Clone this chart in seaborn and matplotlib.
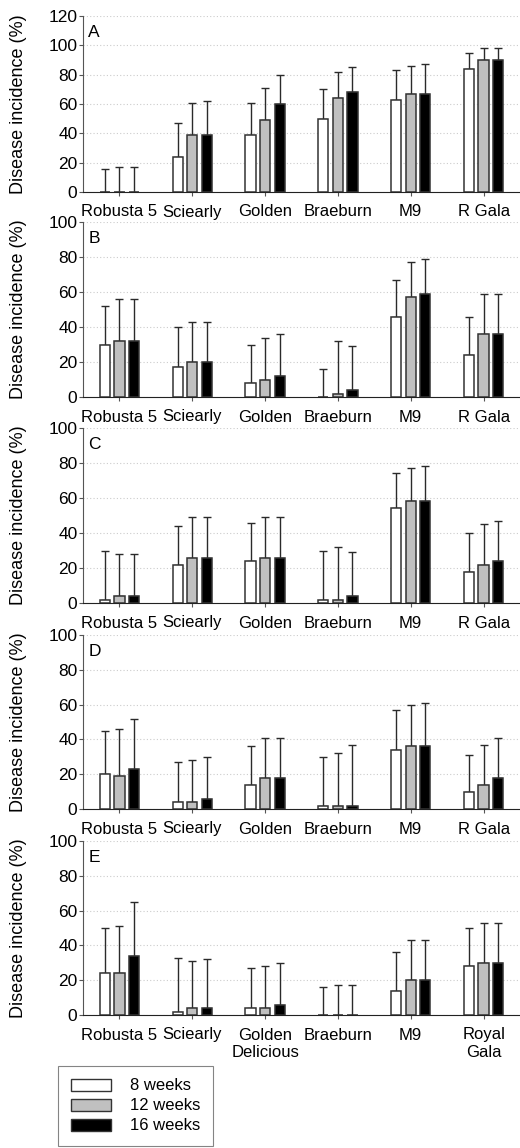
import numpy as np
import pandas as pd
import seaborn as sns
import matplotlib.pyplot as plt
from matplotlib.patches import Patch

# cultivars
cultivars = ["Robusta 5", "Sciearly", "Golden", "Braeburn", "M9", "R Gala"]
cultivars_e = ["Robusta 5", "Sciearly", "Golden\nDelicious", "Braeburn", "M9", "Royal\nGala"]
weeks = ["8 weeks", "12 weeks", "16 weeks"]
panel_labels = ["A", "B", "C", "D", "E"]

# mean disease incidence (%) per panel, rows = weeks (8, 12, 16)
mean_a = [[0, 24, 39, 50, 63, 84], [0, 39, 49, 64, 67, 90], [0, 39, 60, 68, 67, 90]]
mean_b = [[30, 17, 8, 0, 46, 24], [32, 20, 10, 2, 57, 36], [32, 20, 12, 4, 59, 36]]
mean_c = [[2, 22, 24, 2, 54, 18], [4, 26, 26, 2, 58, 22], [4, 26, 26, 4, 58, 24]]
mean_d = [[20, 4, 14, 2, 34, 10], [19, 4, 18, 2, 36, 14], [23, 6, 18, 2, 36, 18]]
mean_e = [[24, 2, 4, 0, 14, 28], [24, 4, 4, 0, 20, 30], [34, 4, 6, 0, 20, 30]]

# top of the error bars (%)
top_a = [[16, 47, 61, 70, 83, 95], [17, 61, 71, 82, 86, 98], [17, 62, 80, 85, 87, 98]]
top_b = [[52, 40, 30, 16, 67, 46], [56, 43, 34, 32, 77, 59], [56, 43, 36, 29, 79, 59]]
top_c = [[30, 44, 46, 30, 74, 40], [28, 49, 49, 32, 77, 45], [28, 49, 49, 29, 78, 47]]
top_d = [[45, 27, 36, 30, 57, 31], [46, 28, 41, 32, 60, 37], [52, 30, 41, 37, 61, 41]]
top_e = [[50, 33, 27, 16, 36, 50], [51, 31, 28, 17, 43, 53], [65, 32, 30, 17, 43, 53]]

means = [mean_a, mean_b, mean_c, mean_d, mean_e]
tops = [top_a, top_b, top_c, top_d, top_e]
ymax = [120, 100, 100, 100, 100]

colors = ["#ffffff", "#c0c0c0", "#000000"]

sns.set_style("ticks")
plt.rcParams["font.family"] = ["Liberation Sans", "DejaVu Sans"]
plt.rcParams["font.size"] = 12
plt.rcParams["text.color"] = "black"
plt.rcParams["axes.labelcolor"] = "black"
plt.rcParams["xtick.labelcolor"] = "black"
plt.rcParams["ytick.labelcolor"] = "black"

fig = plt.figure(figsize=(5.2, 11.48), dpi=100)

# axes boxes in pixels: (top, bottom)
boxes = [(16, 192), (222, 397), (428, 603), (635, 809), (841, 1015)]
W, H = 520, 1148
left = 83

for k in range(5):
    top_px, bot_px = boxes[k]
    ax = fig.add_axes([left / W, 1 - bot_px / H, (W - left) / W, (bot_px - top_px) / H])
    cats = cultivars_e if k == 4 else cultivars
    rows = []
    for w, wk in enumerate(weeks):
        for c, cat in enumerate(cats):
            rows.append({"cultivar": cat, "weeks": wk, "value": means[k][w][c]})
    df = pd.DataFrame(rows)

    sns.barplot(data=df, x="cultivar", y="value", hue="weeks", order=cats,
                hue_order=weeks, palette=colors, edgecolor="#333333",
                linewidth=1.1, width=0.6, gap=0.3, errorbar=None,
                legend=False, ax=ax, zorder=3)

    # upper-only error bars
    bar_conts = list(ax.containers)
    for w, cont in enumerate(bar_conts):
        xs = [b.get_x() + b.get_width() / 2 for b in cont]
        hs = np.array([b.get_height() for b in cont])
        up = np.array(tops[k][w]) - hs
        ax.errorbar(xs, hs, yerr=[np.zeros_like(hs), up], fmt="none",
                    ecolor="#2a2a2a", elinewidth=1.0, capsize=3, capthick=1.0,
                    zorder=2)

    ax.set_xlim(-0.5, 5.5)
    ax.set_ylim(0, ymax[k])
    ax.set_yticks(np.arange(0, ymax[k] + 1, 20))
    ax.yaxis.grid(True, linestyle=(0, (1, 2)), color="#cccccc", linewidth=0.8, zorder=0)
    ax.set_axisbelow(True)
    sns.despine(ax=ax)
    ax.spines["left"].set_color("#555555")
    ax.spines["bottom"].set_color("#222222")
    ax.tick_params(axis="y", length=3, width=0.8, color="#555555", labelsize=12.5, pad=1)
    ax.tick_params(axis="x", length=3, width=0.8, color="#555555", labelsize=12, pad=6)
    ax.set_xlabel("")
    ax.set_ylabel("Disease incidence (%)", fontsize=13)
    ax.yaxis.set_label_coords(-0.128, 0.5)
    ax.text(0.012, 0.905, panel_labels[k], transform=ax.transAxes, fontsize=12.5,
            ha="left", va="center")

handles = [Patch(facecolor=c, edgecolor="#333333", linewidth=1.0) for c in colors]
leg = fig.legend(handles, weeks, loc="upper left",
                 bbox_to_anchor=(58 / W, 1 - 1066 / H), frameon=True,
                 fancybox=False, edgecolor="#666666", fontsize=12,
                 handlelength=2.4, handleheight=0.7, handletextpad=1.2,
                 labelspacing=0.3, borderpad=0.75, borderaxespad=0)
leg.get_frame().set_linewidth(0.8)

fig.savefig("out.png", dpi=100, facecolor="white")
